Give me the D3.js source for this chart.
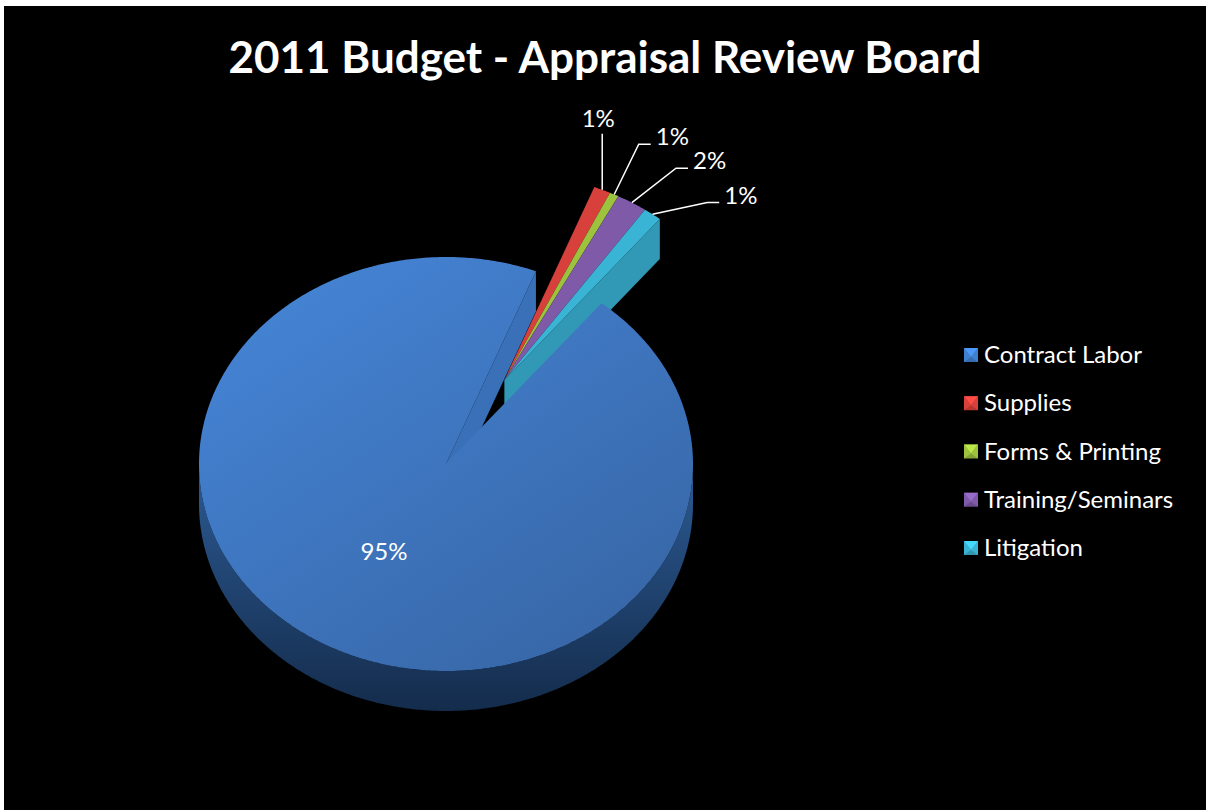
<!DOCTYPE html>
<html>
<head>
<meta charset="utf-8">
<script src="https://cdn.jsdelivr.net/npm/d3@7"></script>
<style>
  body { margin: 0; background: #fff; }
  svg { display: block; }
  text { font-family: Lato, "Open Sans", sans-serif; fill: #fff; }
</style>
</head>
<body>
<div id="chart"></div>
<script>
let categories = ['Contract Labor', 'Supplies', 'Forms & Printing', 'Training/Seminars', 'Litigation']
let shares = [95.1, 1.1, 0.6, 2.0, 1.2]
let topColors = ['#4080d0', '#d8403b', '#9dc23d', '#7f5aa9', '#3ab4d4']
let title = '2011 Budget - Appraisal Review Board'

let width = 1206, height = 810
let svg = d3.select('#chart').append('svg')
  .attr('width', width)
  .attr('height', height)

svg.append('rect')
  .attr('x', 4).attr('y', 6)
  .attr('width', width - 4).attr('height', height - 6)
  .attr('fill', '#000')

svg.append('text')
  .attr('x', 605).attr('y', 73)
  .attr('text-anchor', 'middle')
  .style('font-size', '44px')
  .style('font-weight', 'bold')
  .text(title)

// pie geometry (flattened ellipse + thickness)
let cx = 446, cy = 464, rx = 247, ry = 207, depth = 40
let explode = 0.47
let deg = Math.PI / 180

let pie = d3.pie().sort(null).value(d => d)
  .startAngle(39 * deg).endAngle(399 * deg)
let arcs = pie(shares)
let total = d3.sum(shares)

let pt = (a, r, off, dz = 0) => [
  cx + off[0] + r * rx * Math.sin(a),
  cy + off[1] - r * ry * Math.cos(a) + dz
]
let rim = (a0, a1, off, dz = 0) => {
  let n = Math.max(2, Math.ceil(Math.abs(a1 - a0) / 0.01))
  return d3.range(n + 1).map(i => pt(a0 + (a1 - a0) * i / n, 1, off, dz))
}
let line = d3.line()

let defs = svg.append('defs')
let topGrad = defs.append('linearGradient').attr('id', 'topMain')
  .attr('x1', 0).attr('y1', 0).attr('x2', 0.8).attr('y2', 1)
topGrad.append('stop').attr('offset', 0).attr('stop-color', '#4687da')
topGrad.append('stop').attr('offset', 1).attr('stop-color', '#3766a6')
let sideGrad = defs.append('linearGradient').attr('id', 'sideMain')
  .attr('x1', 0).attr('y1', 0).attr('x2', 0).attr('y2', 1)
sideGrad.append('stop').attr('offset', 0).attr('stop-color', '#2c5a93')
sideGrad.append('stop').attr('offset', 1).attr('stop-color', '#142c4c')

let smallArcs = arcs.slice(1)
let gMid = (smallArcs[0].startAngle + smallArcs[smallArcs.length - 1].endAngle) / 2
let groups = [
  { arcs: smallArcs, off: [explode * rx * Math.sin(gMid), -explode * ry * Math.cos(gMid)] },
  { arcs: [arcs[0]], off: [0, 0] }
]

let topFill = i => i === 0 ? 'url(#topMain)' : topColors[i]
let sideFill = i => i === 0 ? 'url(#sideMain)' : d3.color(topColors[i]).darker(0.7)
let wallFill = i => i === 0 ? '#3970b8' : d3.color(topColors[i]).darker(0.45)

let pieG = svg.append('g')

groups.forEach(g => {
  let first = g.arcs[0], last = g.arcs[g.arcs.length - 1]
  let c = pt(0, 0, g.off), cd = pt(0, 0, g.off, depth)
  // radial walls facing the viewer
  let walls = []
  if (Math.sin(first.startAngle) < 0) walls.push([first.startAngle, first.index])
  if (Math.sin(last.endAngle) > 0) walls.push([last.endAngle, last.index])
  walls.forEach(([a, i]) => {
    pieG.append('path')
      .attr('d', line([c, pt(a, 1, g.off), pt(a, 1, g.off, depth), cd]) + 'Z')
      .attr('fill', wallFill(i))
  })
  // outer curved side, front half only
  g.arcs.forEach(d => {
    [0, 1].forEach(k => {
      let lo = Math.max(d.startAngle, Math.PI / 2 + 2 * Math.PI * k)
      let hi = Math.min(d.endAngle, 3 * Math.PI / 2 + 2 * Math.PI * k)
      if (hi <= lo) return
      let pts = rim(lo, hi, g.off).concat(rim(hi, lo, g.off, depth))
      pieG.append('path')
        .attr('d', line(pts) + 'Z')
        .attr('fill', sideFill(d.index))
    })
  })
  // top faces
  g.arcs.forEach(d => {
    let pts = [c].concat(rim(d.startAngle, d.endAngle, g.off))
    pieG.append('path')
      .attr('d', line(pts) + 'Z')
      .attr('fill', topFill(d.index))
  })
})

let pctText = v => Math.round(v / total * 100) + '%'

// label inside the big slice
let mainMid = (arcs[0].startAngle + arcs[0].endAngle) / 2
let mp = pt(mainMid, 0.5, [0, 0])
svg.append('text')
  .attr('x', mp[0]).attr('y', mp[1] + 7)
  .attr('text-anchor', 'middle')
  .style('font-size', '24px')
  .text(pctText(arcs[0].value))

// leader-line labels for the exploded slices
let leaderLen = 56, leaderStep = 26 * deg
smallArcs.forEach((d, i) => {
  let a = (d.startAngle + d.endAngle) / 2
  let anchor = pt(a, 1, groups[0].off)
  let phi = i * leaderStep
  let elbow = [anchor[0] + leaderLen * Math.sin(phi), anchor[1] - leaderLen * Math.cos(phi)]
  let pts = [anchor, elbow]
  if (i > 0) pts.push([elbow[0] + 12, elbow[1]])
  svg.append('path')
    .attr('d', line(pts))
    .attr('fill', 'none')
    .attr('stroke', '#fff')
    .attr('stroke-width', 1.5)
  let t = svg.append('text')
    .style('font-size', '24px')
    .text(pctText(d.value))
  if (i === 0) {
    t.attr('x', elbow[0] - 4).attr('y', elbow[1] - 7).attr('text-anchor', 'middle')
  } else {
    t.attr('x', elbow[0] + 17).attr('y', elbow[1] + 1)
  }
})

// legend
let legendY = d3.scalePoint().domain(categories).range([355, 548])
let legend = svg.append('g').selectAll('g')
  .data(categories)
  .enter()
  .append('g')
  .attr('transform', d => `translate(964, ${legendY(d)})`)

legend.append('rect')
  .attr('x', 0).attr('y', -7)
  .attr('width', 14).attr('height', 14)
  .attr('fill', (d, i) => d3.color(topColors[i]).darker(0.5))
legend.append('path')
  .attr('d', 'M0,-7 L14,-7 L7,2 Z')
  .attr('fill', (d, i) => d3.color(topColors[i]).brighter(0.5))
legend.append('path')
  .attr('d', 'M0,-7 L7,2 L0,7 Z M14,-7 L7,2 L14,7 Z')
  .attr('fill', (d, i) => topColors[i])
legend.append('text')
  .attr('x', 20).attr('y', 8)
  .style('font-size', '24px')
  .text(d => d)
</script>
</body>
</html>
